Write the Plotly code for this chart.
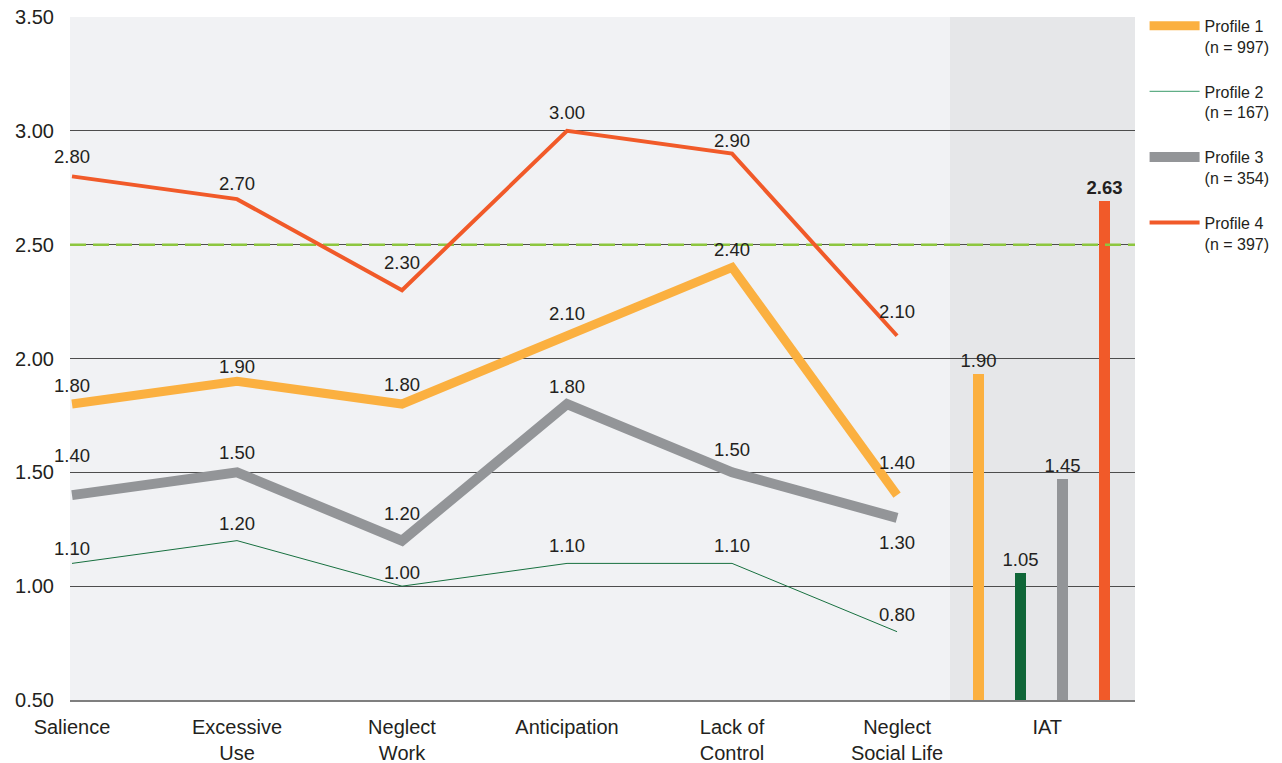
import plotly.graph_objects as go

# ---------------- data ----------------
categories = ["Salience", "Excessive<br>Use", "Neglect<br>Work", "Anticipation",
              "Lack of<br>Control", "Neglect<br>Social Life"]
profile_names = ["Profile 1<br>(n = 997)", "Profile 2<br>(n = 167)",
                 "Profile 3<br>(n = 354)", "Profile 4<br>(n = 397)"]
p1 = [1.80, 1.90, 1.80, 2.10, 2.40, 1.40]
p2 = [1.10, 1.20, 1.00, 1.10, 1.10, 0.80]
p3 = [1.40, 1.50, 1.20, 1.80, 1.50, 1.30]
p4 = [2.80, 2.70, 2.30, 3.00, 2.90, 2.10]
iat_category = "IAT"
iat_values = [1.93, 1.06, 1.47, 2.69]          # bar heights as drawn
iat_labels = ["1.90", "1.05", "1.45", "2.63"]  # printed values
cutoff = 2.50
y_ticks = [0.5, 1.0, 1.5, 2.0, 2.5, 3.0, 3.5]

# ---------------- style ----------------
colors = ["#FBB040", "#17703F", "#939598", "#F15A29"]
bar_colors = ["#FBB040", "#0F6638", "#939598", "#F15A29"]
legend_colors = ["#FBB040", "#3A9A6A", "#939598", "#F15A29"]
widths = [9, 1, 10, 4]
label_shift = [[19, 15, 20, 22, 18, 33],
               [15, 17, 14, 18, 18, 17],
               [40, 20, 27, 18, 23, -25],
               [20, 16, 28, 18, 13, 24]]
bold_bar_label = [False, False, False, True]
FONT = "Liberation Sans, Arial, sans-serif"
TXT = "#231F20"

series = [p1, p2, p3, p4]
xs = list(range(len(categories)))
x_range = [-0.0121, 6.442]
iat_x = 5.873
bar_step = 0.2545
bar_x = [iat_x + (i - 1.5) * bar_step for i in range(len(iat_values))]

fig = go.Figure()

# cut-off reference line (drawn as a trace so it sits above gridlines, below bars)
fig.add_trace(go.Scatter(
    x=x_range, y=[cutoff, cutoff], mode="lines",
    line=dict(color="#8DC63F", width=2.5, dash="16px,7px"),
    showlegend=False, hoverinfo="skip"))

draw_order = [1, 2, 0, 3]
for i in draw_order:
    fig.add_trace(go.Scatter(
        x=xs, y=series[i], mode="lines", name=profile_names[i],
        line=dict(color=colors[i], width=widths[i]),
        legendgroup=f"g{i}", legendrank=i + 1, showlegend=False,
        hoverinfo="skip"))

# legend-only entries (so legend colour can be set independently)
for i in range(4):
    fig.add_trace(go.Scatter(
        x=[None], y=[None], mode="lines", name=profile_names[i],
        line=dict(color=legend_colors[i], width=widths[i]),
        legendgroup=f"g{i}", legendrank=i + 1, showlegend=True))

fig.add_trace(go.Bar(
    x=bar_x, y=[v - 0.5 for v in iat_values], base=0.5, width=0.067,
    marker=dict(color=bar_colors, line=dict(width=0)),
    text=[f"<b>{t}</b>" if b else t for t, b in zip(iat_labels, bold_bar_label)],
    textposition="outside", cliponaxis=False, constraintext="none",
    textfont=dict(family=FONT, size=18.5, color=TXT),
    showlegend=False, hoverinfo="skip"))

annotations = []
for i, s in enumerate(series):
    for j, v in enumerate(s):
        annotations.append(dict(
            x=xs[j], y=v, text=f"{v:.2f}", showarrow=False,
            yshift=label_shift[i][j], xanchor="center", yanchor="middle",
            font=dict(family=FONT, size=18.5, color=TXT)))

shapes = [
    dict(type="rect", xref="x", yref="paper", x0=5.321, x1=6.45, y0=0, y1=1,
         fillcolor="#E6E7E9", line=dict(width=0), layer="below"),
]

fig.update_layout(
    width=1282, height=763,
    margin=dict(l=70, r=147, t=17, b=63, autoexpand=False),
    paper_bgcolor="white", plot_bgcolor="#F1F2F4",
    font=dict(family=FONT, color=TXT),
    annotations=annotations, shapes=shapes,
    bargap=0,
    legend=dict(x=1.009, xanchor="left", y=1.012, yanchor="top",
                font=dict(family=FONT, size=16, color=TXT),
                traceorder="grouped", tracegroupgap=21, valign="top",
                itemwidth=50, bgcolor="rgba(0,0,0,0)"),
    xaxis=dict(range=x_range, tickvals=xs + [5.91],
               ticktext=categories + [iat_category],
               showgrid=False, zeroline=False, showline=True,
               linecolor="#7F7F7F", linewidth=2, automargin=False,
               ticks="outside", ticklen=8, tickcolor="rgba(0,0,0,0)",
               tickfont=dict(family=FONT, size=20, color=TXT)),
    yaxis=dict(range=[0.5, 3.5], tickvals=y_ticks,
               ticktext=[f"{t:.2f}" for t in y_ticks],
               showgrid=True, gridcolor="#4D4D4D", gridwidth=1,
               zeroline=False, showline=False, automargin=False,
               ticklabeloverflow="allow",
               ticks="outside", ticklen=11, tickcolor="rgba(0,0,0,0)",
               tickfont=dict(family=FONT, size=20, color=TXT)),
)

fig.write_html("out.html", config={"displayModeBar": False},
               post_script="document.body.style.margin='0px';")
